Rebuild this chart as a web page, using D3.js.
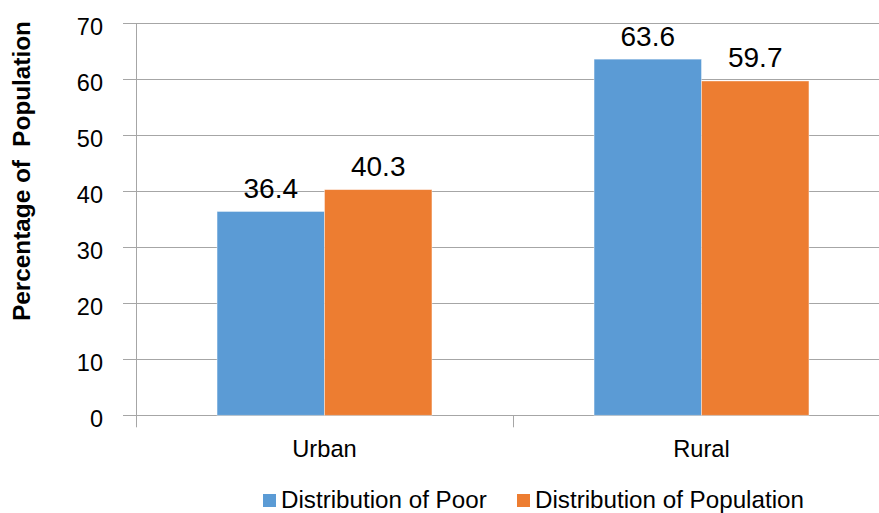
<!DOCTYPE html>
<html>
<head>
<meta charset="utf-8">
<script src="https://cdn.jsdelivr.net/npm/d3@7"></script>
<style>
  html, body { margin: 0; padding: 0; background: #fff; }
  svg { display: block; font-family: Arial, "Liberation Sans", sans-serif; }
</style>
</head>
<body>
<svg id="chart" width="879" height="513"></svg>
<script>
// Chart data
const categories = ["Urban", "Rural"];
const seriesNames = ["Distribution of Poor", "Distribution of Population"];
const poorValues = [36.4, 63.6];
const populationValues = [40.3, 59.7];
const yTicks = [0, 10, 20, 30, 40, 50, 60, 70];
const seriesColors = ["#5b9bd5", "#ed7d31"];

const seriesValues = [poorValues, populationValues];
const rows = categories.map((c, i) => ({
  category: c,
  values: seriesNames.map((s, j) => ({ series: s, value: seriesValues[j][i], color: seriesColors[j] }))
}));

const svg = d3.select("#chart");
const W = 879, H = 513;
const plot = { left: 136, right: 890, top: 23.3, bottom: 415.3 };

const y = d3.scaleLinear().domain([0, 70]).range([plot.bottom, plot.top]);
const x = d3.scaleBand().domain(categories).range([plot.left, plot.right]).padding(0);
const bw = x.bandwidth();
const barW = bw * 0.285;
const xs = d3.scaleBand().domain(seriesNames).range([bw / 2 - barW, bw / 2 + barW]).padding(0);

// Horizontal gridlines with tick stubs left of the axis
const grid = svg.append("g");
grid.selectAll("line")
  .data(yTicks)
  .join("line")
  .attr("x1", plot.left - 13)
  .attr("x2", W)
  .attr("y1", d => Math.round(y(d)) + 0.5)
  .attr("y2", d => Math.round(y(d)) + 0.5)
  .attr("stroke", "#a6a6a6")
  .attr("stroke-width", 1);

// Y tick labels
svg.append("g").selectAll("text")
  .data(yTicks)
  .join("text")
  .attr("x", 103)
  .attr("y", d => y(d) + 12)
  .attr("text-anchor", "end")
  .attr("font-size", 23.5)
  .attr("fill", "#000")
  .text(d => d);

// Vertical value axis line
svg.append("line")
  .attr("x1", plot.left + 0.5).attr("x2", plot.left + 0.5)
  .attr("y1", plot.top).attr("y2", plot.bottom + 12)
  .attr("stroke", "#a6a6a6");

// Category tick marks between groups
svg.append("g").selectAll("line")
  .data(categories.slice(1))
  .join("line")
  .attr("x1", d => Math.round(x(d)) + 0.5)
  .attr("x2", d => Math.round(x(d)) + 0.5)
  .attr("y1", plot.bottom)
  .attr("y2", plot.bottom + 12)
  .attr("stroke", "#a6a6a6");

// Bars
const groups = svg.append("g").selectAll("g")
  .data(rows)
  .join("g")
  .attr("transform", d => `translate(${x(d.category)},0)`);

groups.selectAll("rect")
  .data(d => d.values)
  .join("rect")
  .attr("x", d => xs(d.series))
  .attr("width", xs.bandwidth())
  .attr("y", d => y(d.value))
  .attr("height", d => y(0) - y(d.value))
  .attr("fill", d => d.color)
  .attr("stroke", "#ffffff")
  .attr("stroke-opacity", 0.5)
  .attr("stroke-width", 0.8);

// Value labels above bars
groups.selectAll("text")
  .data(d => d.values)
  .join("text")
  .attr("x", d => xs(d.series) + xs.bandwidth() / 2)
  .attr("y", d => y(d.value) - 13.5)
  .attr("text-anchor", "middle")
  .attr("font-size", 28)
  .attr("fill", "#000")
  .text(d => d.value.toFixed(1));

// Category labels
svg.append("g").selectAll("text")
  .data(categories)
  .join("text")
  .attr("x", d => x(d) + bw / 2)
  .attr("y", 457)
  .attr("text-anchor", "middle")
  .attr("font-size", 23.7)
  .attr("fill", "#000")
  .text(d => d);

// Y axis title
svg.append("text")
  .attr("transform", `translate(30,171) rotate(-90)`)
  .attr("text-anchor", "middle")
  .attr("font-size", 24.3)
  .attr("font-weight", "bold")
  .attr("fill", "#000")
  .attr("xml:space", "preserve")
  .style("white-space", "pre")
  .text("Percentage of  Population");

// Legend
const legendX = [263, 517];
const legend = svg.append("g").selectAll("g")
  .data(seriesNames)
  .join("g")
  .attr("transform", (d, i) => `translate(${legendX[i]},0)`);
legend.append("rect")
  .attr("x", 0).attr("y", 494)
  .attr("width", 13).attr("height", 13)
  .attr("fill", (d, i) => seriesColors[i]);
legend.append("text")
  .attr("x", 18).attr("y", 508)
  .attr("font-size", 24.2)
  .attr("fill", "#000")
  .text(d => d);
</script>
</body>
</html>
